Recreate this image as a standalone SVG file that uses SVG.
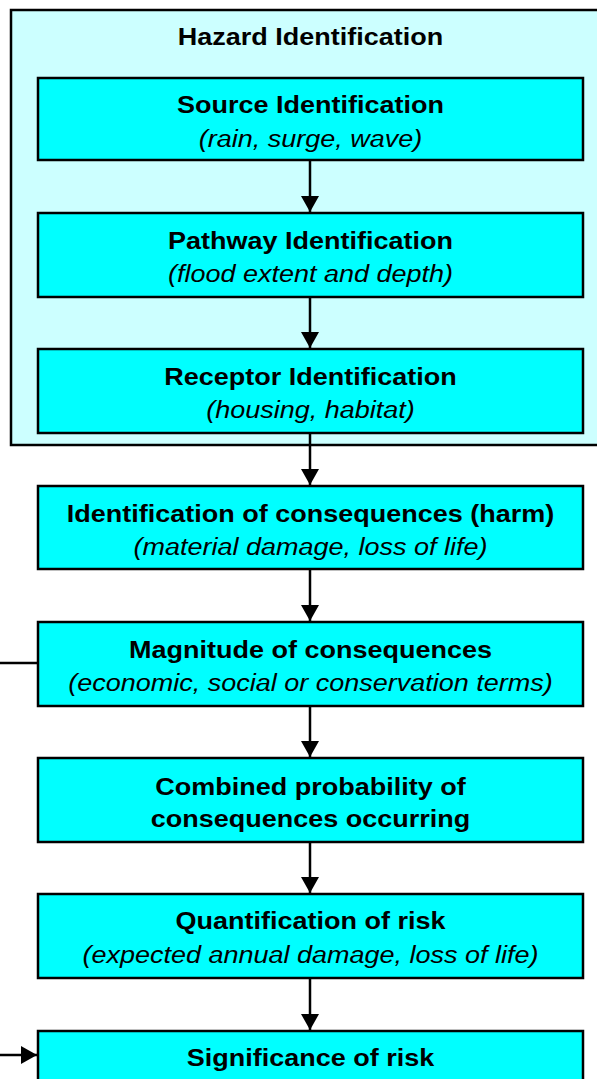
<svg xmlns="http://www.w3.org/2000/svg" width="597" height="1079" viewBox="0 0 597 1079">
<defs>
<style>
.outer{fill:#CCFFFF;stroke:#000;stroke-width:2.5}
.box{fill:#00FFFF;stroke:#000;stroke-width:2.5}
.b{font-family:"Liberation Sans",Arial,sans-serif;font-size:24px;font-weight:bold;text-anchor:middle;fill:#000}
.i{font-family:"Liberation Sans",Arial,sans-serif;font-size:24px;font-style:italic;text-anchor:middle;fill:#000}
.c{stroke:#000;stroke-width:2.5;fill:none}
</style>
<marker id="ah" markerUnits="userSpaceOnUse" markerWidth="18" markerHeight="18" viewBox="0 0 16 18" refX="16" refY="9" orient="auto">
<path d="M0,0 L16,9 L0,18 Z" fill="#000"/>
</marker>
</defs>
<rect width="597" height="1079" fill="#fff"/>
<g id="hazard">
<rect class="outer" x="11" y="10" width="600" height="435"/>
<text class="b" transform="translate(310.5,45) scale(1.125,1)">Hazard Identification</text>
</g>
<g id="source">
<rect class="box" x="38" y="78" width="545" height="82"/>
<text class="b" transform="translate(310.5,113) scale(1.125,1)">Source Identification</text>
<text class="i" transform="translate(310.5,147) scale(1.125,1)">(rain, surge, wave)</text>
</g>
<g id="pathway">
<rect class="box" x="38" y="213" width="545" height="84"/>
<text class="b" transform="translate(310.5,249) scale(1.125,1)">Pathway Identification</text>
<text class="i" transform="translate(310.5,282) scale(1.125,1)">(flood extent and depth)</text>
</g>
<g id="receptor">
<rect class="box" x="38" y="349" width="545" height="84"/>
<text class="b" transform="translate(310.5,385) scale(1.125,1)">Receptor Identification</text>
<text class="i" transform="translate(310.5,418) scale(1.125,1)">(housing, habitat)</text>
</g>
<g id="consequences">
<rect class="box" x="38" y="486" width="545" height="83"/>
<text class="b" transform="translate(310.5,522) scale(1.125,1)">Identification of consequences (harm)</text>
<text class="i" transform="translate(310.5,555) scale(1.125,1)">(material damage, loss of life)</text>
</g>
<g id="magnitude">
<rect class="box" x="38" y="622" width="545" height="84"/>
<text class="b" transform="translate(310.5,658) scale(1.125,1)">Magnitude of consequences</text>
<text class="i" transform="translate(310.5,691) scale(1.125,1)">(economic, social or conservation terms)</text>
</g>
<g id="combined">
<rect class="box" x="38" y="758" width="545" height="84"/>
<text class="b" transform="translate(310.5,795) scale(1.125,1)">Combined probability of</text>
<text class="b" transform="translate(310.5,827) scale(1.125,1)">consequences occurring</text>
</g>
<g id="quantification">
<rect class="box" x="38" y="894" width="545" height="84"/>
<text class="b" transform="translate(310.5,929) scale(1.125,1)">Quantification of risk</text>
<text class="i" transform="translate(310.5,963) scale(1.125,1)">(expected annual damage, loss of life)</text>
</g>
<g id="significance">
<rect class="box" x="38" y="1031" width="545" height="84"/>
<text class="b" transform="translate(310.5,1066) scale(1.125,1)">Significance of risk</text>
</g>
<g id="connectors">
<line class="c" x1="310" y1="161" x2="310" y2="212" marker-end="url(#ah)"/>
<line class="c" x1="310" y1="298" x2="310" y2="348" marker-end="url(#ah)"/>
<line class="c" x1="310" y1="434" x2="310" y2="485" marker-end="url(#ah)"/>
<line class="c" x1="310" y1="570" x2="310" y2="621" marker-end="url(#ah)"/>
<line class="c" x1="310" y1="707" x2="310" y2="757" marker-end="url(#ah)"/>
<line class="c" x1="310" y1="843" x2="310" y2="893" marker-end="url(#ah)"/>
<line class="c" x1="310" y1="979" x2="310" y2="1030" marker-end="url(#ah)"/>
<line class="c" x1="0" y1="663" x2="37" y2="663"/>
<line class="c" x1="0" y1="1055" x2="37" y2="1055" marker-end="url(#ah)"/>
</g>
</svg>
